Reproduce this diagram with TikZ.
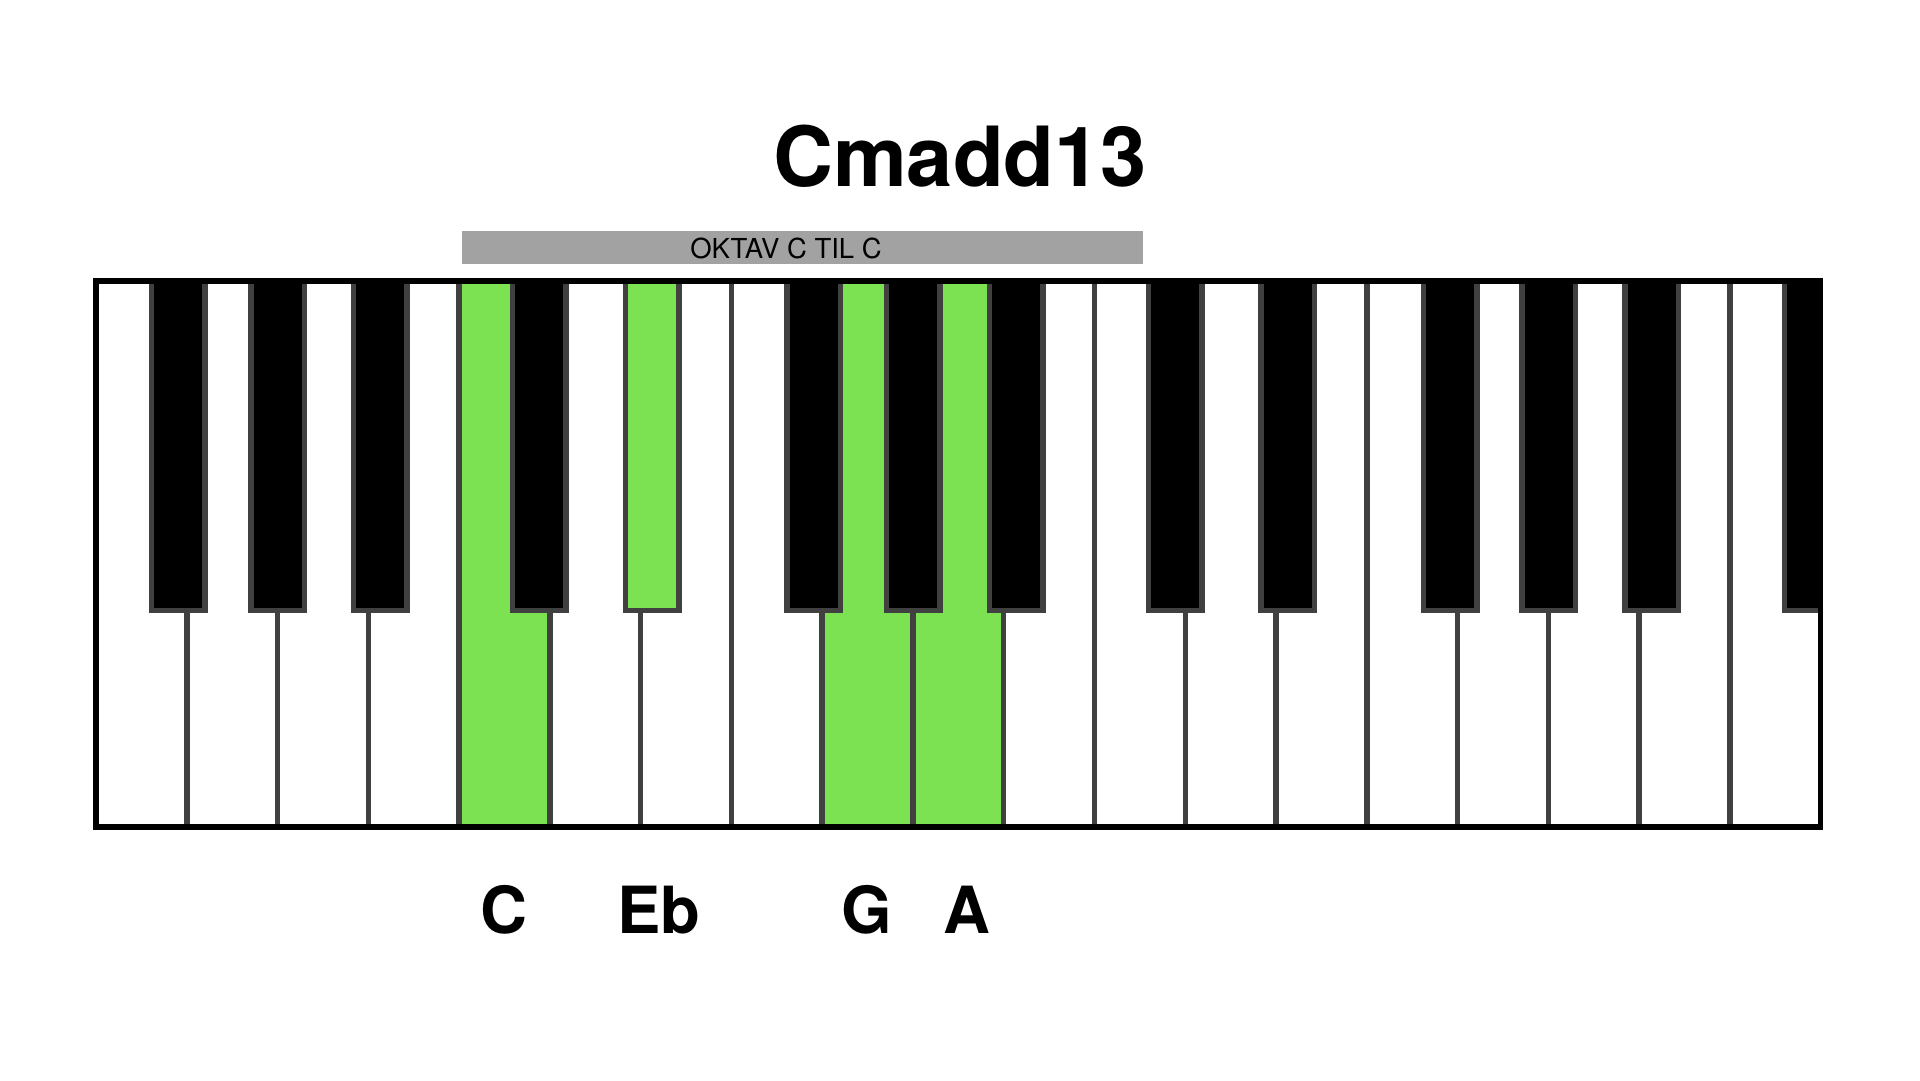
\documentclass[tikz,border=0pt]{standalone}
\usepackage{fontspec}
\setmainfont{TeX Gyre Heros}
\definecolor{keygreen}{RGB}{125,226,82}
\definecolor{keygray}{RGB}{64,64,64}
\definecolor{bargray}{RGB}{162,162,162}
\begin{document}
\begin{tikzpicture}[x=1pt,y=-1pt,
  whitekey/.style={fill=white,draw=keygray,line width=5.5pt},
  greenkey/.style={fill=keygreen,draw=keygray,line width=5.5pt},
  blackkey/.style={fill=black,draw=keygray,line width=5.5pt},
  greenblack/.style={fill=keygreen,draw=keygray,line width=5.5pt},
  kbframe/.style={draw=black,line width=5.5pt},
  titletext/.style={font=\fontsize{83}{90}\selectfont\bfseries,anchor=base,inner sep=0pt},
  notelabel/.style={font=\fontsize{65}{72}\selectfont\bfseries,anchor=base,inner sep=0pt},
  bartext/.style={font=\fontsize{27.5}{30}\selectfont,anchor=base,inner sep=0pt},
  barbox/.style={fill=bargray,minimum width=681pt,minimum height=33pt,inner sep=0pt,anchor=north west}]
\useasboundingbox (0,0) rectangle (1920,1080);
\fill[white] (0,0) rectangle (1920,1080);
\def\kl{96}
\def\kw{90.77}
\def\kt{281}
\def\kb{827}
\def\kr{1820.6}
% white keys
\foreach \k in {0,...,18}{
  \draw[whitekey] ({\kl+\kw*\k},\kt) rectangle ({\kl+\kw*(\k+1)},\kb);
}
% highlighted white keys: C, G, A
\foreach \k in {4,8,9}{
  \draw[greenkey] ({\kl+\kw*\k},\kt) rectangle ({\kl+\kw*(\k+1)},\kb);
}
% black keys
\begin{scope}
  \clip (\kl,\kt) rectangle (\kr,\kb);
  \foreach \c in {178,277.8,380,539,813.7,913.3,1016,1175,1287.7,1450,1548.5,1651.7,1811.2}{
    \draw[blackkey] ({\c-26.75},\kt) rectangle ({\c+26.75},610.5);
  }
  \draw[greenblack] ({652-26.75},\kt) rectangle ({652+26.75},610.5);
\end{scope}
\draw[kbframe] (\kl,\kt) rectangle (\kr,\kb);
% octave bar
\node[barbox] (bar) at (461.7,231) {};
\node[bartext] (bartxt) at (786,258) {OKTAV C TIL C};
% title
\node[titletext] (title) at (960,186) {Cmadd13};
% note labels
\node[notelabel] (lc) at (504,933) {C};
\node[notelabel] (leb) at (659,933) {Eb};
\node[notelabel] (lg) at (867,933) {G};
\node[notelabel] (la) at (967,933) {A};
\end{tikzpicture}
\end{document}
